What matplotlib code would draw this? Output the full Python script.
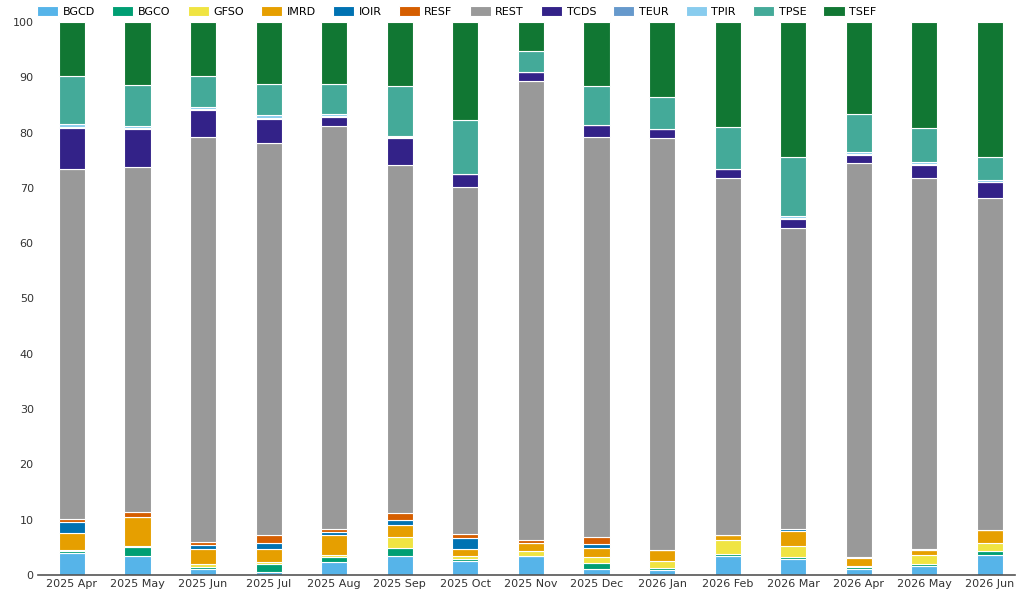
import numpy as np
import matplotlib.pyplot as plt

months = ["2025 Apr", "2025 May", "2025 Jun", "2025 Jul", "2025 Aug", "2025 Sep",
          "2025 Oct", "2025 Nov", "2025 Dec", "2026 Jan", "2026 Feb", "2026 Mar",
          "2026 Apr", "2026 May", "2026 Jun"]

series_names = ["BGCD", "BGCO", "GFSO", "IMRD", "IOIR", "RESF",
                "REST", "TCDS", "TEUR", "TPIR", "TPSE", "TSEF"]

colors = ["#56B4E9", "#009E73", "#F0E442", "#E69F00", "#0072B2", "#D55E00",
          "#999999", "#332288", "#6699CC", "#88CCEE", "#44AA99", "#117733"]

# share (%) per month
BGCD = [4.0, 3.5, 1.0, 0.6, 2.4, 3.5, 2.5, 3.4, 1.1, 0.9, 3.4, 2.9, 1.1, 1.7, 3.7]
BGCO = [0.4, 1.5, 0.4, 1.4, 0.8, 1.4, 0.4, 0.1, 1.0, 0.4, 0.4, 0.3, 0.4, 0.2, 0.7]
GFSO = [0.2, 0.3, 0.5, 0.4, 0.5, 2.0, 0.5, 0.8, 1.1, 1.2, 2.6, 2.1, 0.2, 1.7, 1.3]
IMRD = [3.0, 5.2, 2.8, 2.3, 3.5, 2.2, 1.3, 1.5, 1.7, 2.0, 0.8, 2.6, 1.3, 1.0, 2.4]
IOIR = [1.9, 0.0, 0.8, 1.1, 0.6, 0.9, 1.9, 0.0, 0.7, 0.0, 0.0, 0.5, 0.3, 0.0, 0.0]
RESF = [0.6, 0.9, 0.5, 1.5, 0.6, 1.2, 0.9, 0.6, 1.2, 0.1, 0.0, 0.0, 0.0, 0.1, 0.0]
REST = [63.4, 62.3, 73.2, 70.9, 72.7, 62.9, 62.6, 82.9, 72.4, 74.4, 64.6, 54.3, 71.2, 67.0, 60.0]
TCDS = [7.3, 6.9, 4.8, 4.3, 1.8, 5.0, 2.4, 1.7, 2.1, 1.7, 1.7, 1.7, 1.4, 2.4, 2.9]
TEUR = [0.2, 0.2, 0.2, 0.2, 0.1, 0.1, 0.0, 0.0, 0.0, 0.0, 0.0, 0.2, 0.2, 0.2, 0.1]
TPIR = [0.5, 0.4, 0.4, 0.5, 0.4, 0.2, 0.1, 0.0, 0.0, 0.0, 0.0, 0.4, 0.4, 0.4, 0.4]
TPSE = [8.8, 7.4, 5.7, 5.6, 5.3, 9.0, 9.6, 3.8, 7.1, 5.8, 7.5, 10.6, 6.9, 6.2, 4.0]
TSEF = [9.7, 11.4, 9.7, 11.2, 11.3, 11.6, 17.8, 5.2, 11.6, 13.5, 19.0, 24.4, 16.6, 19.1, 24.5]

values = [BGCD, BGCO, GFSO, IMRD, IOIR, RESF, REST, TCDS, TEUR, TPIR, TPSE, TSEF]

fig = plt.figure(figsize=(10.24, 5.94), dpi=100)
ax = fig.add_axes([0.037, 0.032, 0.954, 0.931])

x = np.arange(len(months))
bottom = np.zeros(len(months))
for name, col, vals in zip(series_names, colors, values):
    vals = np.array(vals)
    ax.bar(x, vals, width=0.4, bottom=bottom, color=col, label=name,
           edgecolor="white", linewidth=0.8)
    bottom += vals

ax.set_xlim(-0.52, 14.38)
ax.set_ylim(0, 100)
ax.set_yticks(np.arange(0, 101, 10))
ax.set_xticks(x)
ax.set_xticklabels(months)
ax.tick_params(axis="both", length=0, labelsize=8, colors="#333333", pad=3)
for side in ["top", "right", "left"]:
    ax.spines[side].set_visible(False)
ax.spines["bottom"].set_color("#555555")
ax.spines["bottom"].set_linewidth(1.2)

fig.legend(loc="upper left", bbox_to_anchor=(0.032, 0.997), ncol=12, frameon=False,
           fontsize=8, handlelength=1.9, handleheight=1.0, columnspacing=1.55,
           handletextpad=0.4, borderaxespad=0)

fig.savefig("out.png", dpi=100)
